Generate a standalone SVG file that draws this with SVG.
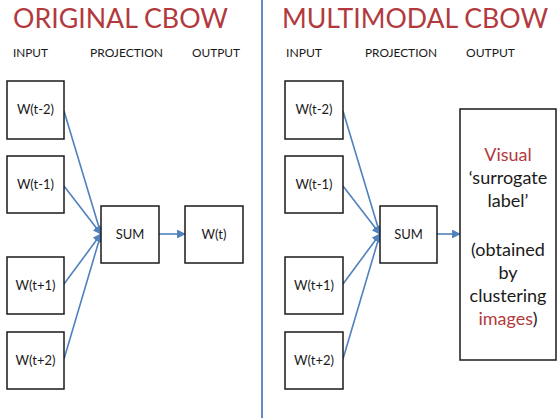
<svg xmlns="http://www.w3.org/2000/svg" width="557" height="418" viewBox="0 0 557 418">
  <style>
    text { font-family: Lato, "Open Sans", "Liberation Sans", sans-serif; fill: #1a1a1a; }
    .title { font-size: 26px; fill: #b23a3e; }
    .col { font-size: 12px; }
    .lbl { font-size: 13px; text-anchor: middle; }
    .big { font-size: 18px; text-anchor: middle; }
    .red { fill: #b23a3e; }
    .box { fill: #fff; stroke: #1a1a1a; stroke-width: 1.5; }
    .edge { stroke: #4f81bd; stroke-width: 1.6; fill: none; }
  </style>
  <defs>
    <marker id="arrow" viewBox="0 0 10 10" refX="9" refY="5" markerWidth="5.5" markerHeight="5.5" orient="auto">
      <path d="M0,0 L10,5 L0,10 z" fill="#4f81bd"/>
    </marker>
  </defs>

  <!-- divider -->
  <line x1="262" y1="0" x2="262" y2="418" stroke="#4f81bd" stroke-width="1.8"/>

  <!-- headings -->
  <text class="title" x="13" y="28" textLength="215" lengthAdjust="spacingAndGlyphs">ORIGINAL CBOW</text>
  <text class="title" x="282" y="28" textLength="266" lengthAdjust="spacingAndGlyphs">MULTIMODAL CBOW</text>
  <text class="col" x="13" y="57" textLength="35" lengthAdjust="spacingAndGlyphs">INPUT</text>
  <text class="col" x="90" y="57" textLength="73" lengthAdjust="spacingAndGlyphs">PROJECTION</text>
  <text class="col" x="192" y="57" textLength="48" lengthAdjust="spacingAndGlyphs">OUTPUT</text>
  <text class="col" x="286" y="57" textLength="36" lengthAdjust="spacingAndGlyphs">INPUT</text>
  <text class="col" x="365" y="57" textLength="72" lengthAdjust="spacingAndGlyphs">PROJECTION</text>
  <text class="col" x="466" y="57" textLength="49" lengthAdjust="spacingAndGlyphs">OUTPUT</text>

  <!-- connectors -->
  <g id="connectors">
    <line class="edge" x1="64" y1="111" x2="101" y2="234" marker-end="url(#arrow)"/>
    <line class="edge" x1="64" y1="186" x2="101" y2="234" marker-end="url(#arrow)"/>
    <line class="edge" x1="64" y1="284" x2="101" y2="234" marker-end="url(#arrow)"/>
    <line class="edge" x1="64" y1="359" x2="101" y2="234" marker-end="url(#arrow)"/>
    <line class="edge" x1="159" y1="234" x2="185" y2="234" marker-end="url(#arrow)"/>
    <line class="edge" x1="343" y1="111" x2="380" y2="234" marker-end="url(#arrow)"/>
    <line class="edge" x1="343" y1="186" x2="380" y2="234" marker-end="url(#arrow)"/>
    <line class="edge" x1="343" y1="284" x2="380" y2="234" marker-end="url(#arrow)"/>
    <line class="edge" x1="343" y1="359" x2="380" y2="234" marker-end="url(#arrow)"/>
    <line class="edge" x1="437" y1="234" x2="460" y2="234" marker-end="url(#arrow)"/>
  </g>

  <!-- original CBOW -->
  <g id="orig-wt-2"><rect class="box" x="7" y="81" width="57" height="58"/><text class="lbl" x="35.5" y="114">W(t-2)</text></g>
  <g id="orig-wt-1"><rect class="box" x="7" y="156" width="57" height="57"/><text class="lbl" x="35.5" y="189">W(t-1)</text></g>
  <g id="orig-wt+1"><rect class="box" x="7" y="257" width="57" height="57"/><text class="lbl" x="35.5" y="290">W(t+1)</text></g>
  <g id="orig-wt+2"><rect class="box" x="7" y="332" width="57" height="57"/><text class="lbl" x="35.5" y="365">W(t+2)</text></g>
  <g id="orig-sum"><rect class="box" x="101" y="206" width="58" height="57"/><text class="lbl" x="130" y="239">SUM</text></g>
  <g id="orig-wt"><rect class="box" x="185" y="206" width="58" height="57"/><text class="lbl" x="214" y="239">W(t)</text></g>

  <!-- multimodal CBOW -->
  <g id="mm-wt-2"><rect class="box" x="285" y="81" width="58" height="58"/><text class="lbl" x="314" y="114">W(t-2)</text></g>
  <g id="mm-wt-1"><rect class="box" x="285" y="156" width="58" height="57"/><text class="lbl" x="314" y="189">W(t-1)</text></g>
  <g id="mm-wt+1"><rect class="box" x="285" y="257" width="58" height="57"/><text class="lbl" x="314" y="290">W(t+1)</text></g>
  <g id="mm-wt+2"><rect class="box" x="285" y="332" width="58" height="57"/><text class="lbl" x="314" y="365">W(t+2)</text></g>
  <g id="mm-sum"><rect class="box" x="380" y="206" width="57" height="57"/><text class="lbl" x="408.5" y="239">SUM</text></g>
  <g id="mm-output">
    <rect class="box" x="460" y="109" width="96" height="251"/>
    <text class="big red" x="508" y="161">Visual</text>
    <text class="big" x="508" y="184">‘surrogate</text>
    <text class="big" x="508" y="207">label’</text>
    <text class="big" x="508" y="256">(obtained</text>
    <text class="big" x="508" y="279">by</text>
    <text class="big" x="508" y="302">clustering</text>
    <text class="big" x="508" y="325"><tspan class="red">images</tspan>)</text>
  </g>
</svg>
